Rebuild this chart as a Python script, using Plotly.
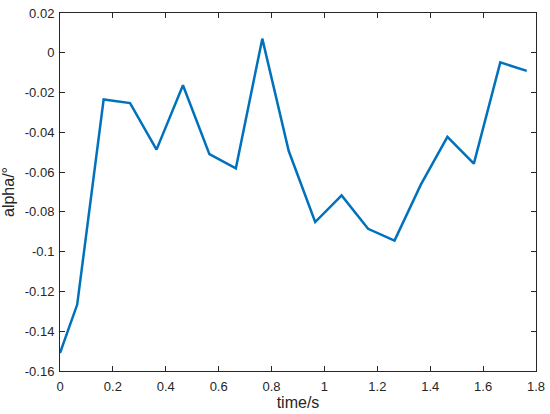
import plotly.graph_objects as go

# time samples (s) and alpha values (deg)
time_s = [0, 0.065, 0.165, 0.265, 0.365, 0.465, 0.565, 0.665, 0.765, 0.865,
          0.965, 1.065, 1.165, 1.265, 1.365, 1.465, 1.565, 1.665, 1.765]
alpha = [-0.151, -0.1266, -0.0235, -0.0253, -0.0487, -0.0163, -0.051, -0.0581,
         0.0071, -0.0494, -0.0851, -0.0717, -0.0885, -0.0944, -0.0662, -0.0423,
         -0.0557, -0.0048, -0.0091]

x_ticks = [0, 0.2, 0.4, 0.6, 0.8, 1, 1.2, 1.4, 1.6, 1.8]
x_labels = ["0", "0.2", "0.4", "0.6", "0.8", "1", "1.2", "1.4", "1.6", "1.8"]
y_ticks = [-0.16, -0.14, -0.12, -0.1, -0.08, -0.06, -0.04, -0.02, 0, 0.02]
y_labels = ["-0.16", "-0.14", "-0.12", "-0.1", "-0.08", "-0.06", "-0.04", "-0.02", "0", "0.02"]

fig = go.Figure()
fig.add_trace(go.Scatter(
    x=time_s, y=alpha, mode="lines",
    line=dict(color="#0072BD", width=2.5),
    showlegend=False,
))

axis_style = dict(
    showgrid=False, zeroline=False, automargin=False,
    showline=True, linecolor="#262626", linewidth=1, mirror="ticks",
    ticks="inside", ticklen=5, tickcolor="#262626", tickwidth=1,
    tickfont=dict(family="Liberation Sans, Arial, sans-serif", size=13, color="#262626"),
)

fig.update_layout(
    width=550, height=414,
    margin=dict(l=60, r=14, t=13, b=43),
    plot_bgcolor="white", paper_bgcolor="white",
    font=dict(family="Liberation Sans, Arial, sans-serif", size=13, color="#262626"),
    xaxis=dict(range=[0, 1.8], tickvals=x_ticks, ticktext=x_labels,
               ticklabelstandoff=3,
               title=dict(text="time/s", standoff=2), **axis_style),
    yaxis=dict(range=[-0.16, 0.02], tickvals=y_ticks, ticktext=y_labels,
               ticklabelstandoff=2,
               title=dict(text="alpha/°", standoff=6), **axis_style),
)

# drop the default 8px page margin so the figure fills the window exactly
fig.write_html("out.html", config={"displayModeBar": False},
               post_script="document.body.style.margin='0';")
